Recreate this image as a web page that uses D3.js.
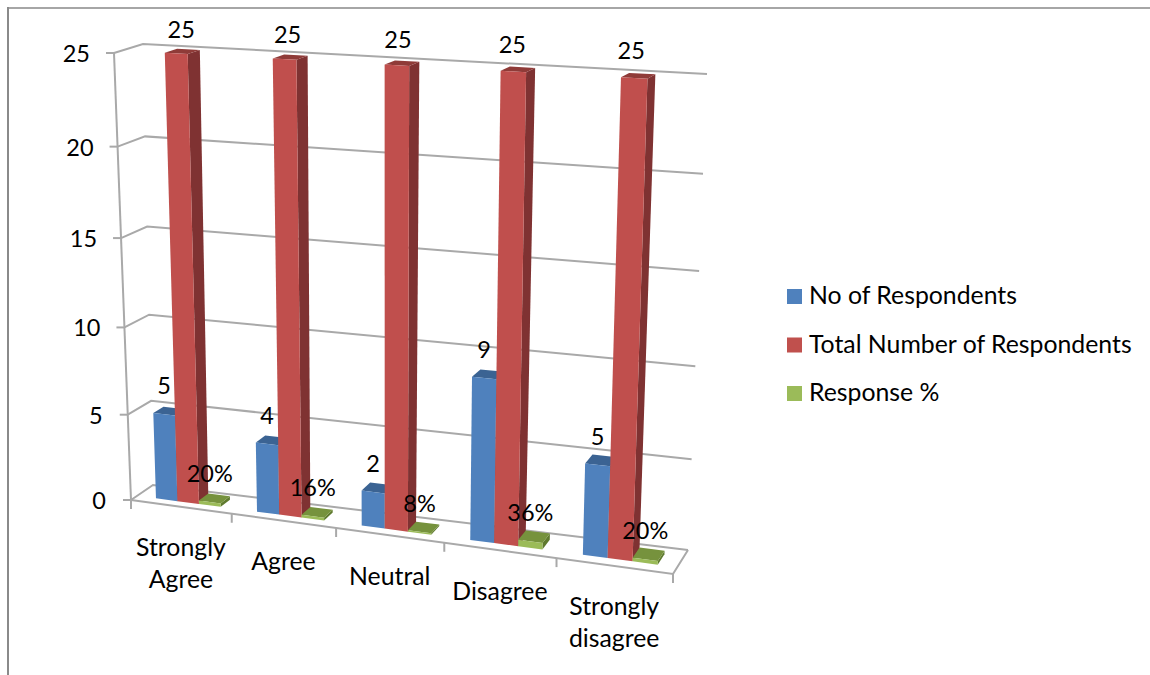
<!DOCTYPE html>
<html><head><meta charset="utf-8">
<script src="https://cdn.jsdelivr.net/npm/d3@7/dist/d3.min.js"></script>
<style>html,body{margin:0;padding:0;background:#fff}svg{display:block}text{font-family:Lato,sans-serif;fill:#000}</style>
</head><body><svg id="c" width="1150" height="675"></svg>
<script>
const categories = ["Strongly Agree","Agree","Neutral","Disagree","Strongly disagree"];
const noOfRespondents = [5,4,2,9,5];
const totalRespondents = [25,25,25,25,25];
const responsePct = [0.20,0.16,0.08,0.36,0.20];
const pctLabels = ["20%","16%","8%","36%","20%"];
const yTicks = [0,5,10,15,20,25];
const seriesNames = ["No of Respondents","Total Number of Respondents","Response %"];

const colors = [
  {front:"#4f81bd",top:"#3b6493",side:"#2f5078"},
  {front:"#c0504d",top:"#8f3a38",side:"#7f3130"},
  {front:"#9bbb59",top:"#76923c",side:"#5f7a2e"}
];

const svg = d3.select("#c");
// projection box corners (front/back, left/right, bottom/top)
const FLB=[131,500],BLB=[153,485],BRB=[688,550],FRB=[673,574],FLT=[114,53],BLT=[143,44],BRT=[707,74],FRT=[690,84];
const mix=(a,b,t)=>[a[0]+(b[0]-a[0])*t,a[1]+(b[1]-a[1])*t];
const uScale=d3.scaleLinear().domain([0,categories.length]).range([0,1]);
const vScale=d3.scaleLinear().domain([0,25]).range([0,1]);
const persp=(t,c)=>t/(t+(1-t)*c);
function P(cat,val,d){
  const u=persp(uScale(cat),1.095), v=persp(vScale(val),1.06);
  const bottom=mix(mix(FLB,FRB,u),mix(BLB,BRB,u),d);
  const top=mix(mix(FLT,FRT,u),mix(BLT,BRT,u),d);
  return mix(bottom,top,v);
}
const line=d3.line();
const closed=d3.line().curve(d3.curveLinearClosed);

// frame
svg.append("path").attr("d",line([[8,8],[1150,8]])).attr("stroke","#a6a6a6").attr("stroke-width",2).attr("fill","none");
svg.append("path").attr("d",line([[8,675],[8,7]])).attr("stroke","#8a8a8a").attr("stroke-width",2).attr("fill","none");

const g=svg.append("g");
const defs=svg.append("defs");
defs.append("filter").attr("id","soft").append("feGaussianBlur").attr("stdDeviation",0.55);
g.attr("filter","url(#soft)");
const n=categories.length;
const grid="#a9a9a9";
const stroke=(sel)=>sel.attr("stroke",grid).attr("stroke-width",2).attr("fill","none");

// gridlines on side + back wall, with ticks
yTicks.forEach(t=>{
  stroke(g.append("path")).attr("d",line([P(0,t,0),P(0,t,1),P(n,t,1)]));
  const p=P(0,t,0);
  stroke(g.append("path")).attr("d",line([[p[0]-8,p[1]],p]));
});
// vertical axis
stroke(g.append("path")).attr("d",line([P(0,0,0),P(0,25,0)]));
// floor
stroke(g.append("path")).attr("d",line([P(0,0,0),P(n,0,0),P(n,0,1)]));
d3.range(n+1).forEach(i=>{
  const p=P(i,0,0);
  stroke(g.append("path")).attr("d",line([p,[p[0],p[1]+9]]));
});

// bars
const barStart=0.19, barW=0.215, d0=0.28, d1=0.72;
const allSeries=[noOfRespondents,totalRespondents,responsePct];
categories.forEach((c,i)=>{
  allSeries.forEach((vals,s)=>{
    const a=i+barStart+s*barW, b=a+barW, v=vals[i], col=colors[s];
    g.append("path").attr("fill",col.side).attr("d",closed([P(b,0,d0),P(b,0,d1),P(b,v,d1),P(b,v,d0)]));
    g.append("path").attr("fill",col.top).attr("d",closed([P(a,v,d0),P(b,v,d0),P(b,v,d1),P(a,v,d1)]));
    g.append("path").attr("fill",col.front).attr("d",closed([P(a,0,d0),P(b,0,d0),P(b,v,d0),P(a,v,d0)]));
  });
});

// tick labels
const FS=23.5, FT=24.8;
yTicks.forEach(t=>{
  const p=P(0,t,0);
  svg.append("text").attr("x",p[0]-(t>=10?24:25)).attr("y",p[1]+3).attr("text-anchor","end")
    .attr("dominant-baseline","middle").attr("font-size",FS).text(t);
});
// data labels
allSeries.forEach((vals,s)=>{
  categories.forEach((c,i)=>{
    const a=i+barStart+s*barW, m=a+barW/2;
    const p=P(m,vals[i],d0), f=uScale(i);
    const dx=s===1?5-10*f:0;
    const dy=s===1?-21-5*f:-26;
    svg.append("text").attr("x",p[0]+dx).attr("y",p[1]+dy).attr("text-anchor","middle")
      .attr("dominant-baseline","middle").attr("font-size",FS)
      .text(s===2?pctLabels[i]:vals[i]);
  });
});
// category labels
const wrapped=categories.map(c=>c.startsWith("Strongly")?c.split(" "):[c]);
wrapped.forEach((lines,i)=>{
  const p=P(i+0.5,0,0);
  lines.forEach((l,k)=>{
    svg.append("text").attr("x",p[0]).attr("y",p[1]+43+k*32).attr("text-anchor","middle")
      .attr("dominant-baseline","middle").attr("font-size",FT).text(l);
  });
});
// legend
const legendScale=d3.scalePoint().domain(seriesNames).range([296,393]);
seriesNames.forEach((nm,s)=>{
  const y=legendScale(nm);
  svg.append("rect").attr("x",787).attr("y",y-7).attr("width",15).attr("height",15).attr("fill",colors[s].front);
  svg.append("text").attr("x",809).attr("y",y+2).attr("dominant-baseline","middle").attr("font-size",FT).text(nm);
});
</script></body></html>
